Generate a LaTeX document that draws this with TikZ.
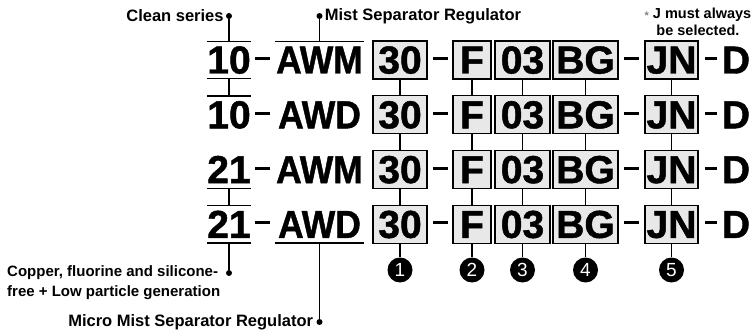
\documentclass[tikz,border=0pt]{standalone}
\usepackage{fontspec}
\setmainfont{Liberation Sans}
\newfontfamily\heavyfont[FakeBold=1.2]{Liberation Sans Bold}
\usepackage{graphicx}
\definecolor{boxgray}{RGB}{232,232,232}
\begin{document}
\begin{tikzpicture}[x=1pt,y=-1pt,
  big/.style={font=\fontsize{39}{39}\heavyfont},
  code/.style={big, text height=27pt, text depth=0pt, inner xsep=0pt, inner ysep=5pt},
  codebox/.style={big, text height=27pt, text depth=0pt, inner sep=0pt, draw, line width=1.3pt, fill=boxgray, minimum height=38pt},
  lbl/.style={font=\fontsize{16.5}{20}\selectfont\bfseries},
  dotnode/.style={circle, fill=black, inner sep=0pt, minimum size=6pt},
  conn/.style={line width=1.4pt},
  dashbar/.style={line width=3pt},
  numnode/.style={circle, fill=black, text=white, inner sep=0pt, minimum size=25pt, font=\fontsize{19}{19}\selectfont}]
\useasboundingbox (0,0) rectangle (753,334);

\foreach \r/\pre/\mid in {1/10/AWM, 2/10/AWD, 3/21/AWM, 4/21/AWD} {
  \pgfmathsetmacro\yc{60+54.8*(\r-1)}
  \pgfmathsetmacro\yd{\yc-1.5}
  \node[code, minimum width=42pt] (p\r) at (229,\yc) {\pre};
  \draw[dashbar] (255,\yd) -- (270,\yd);
  \node[code, minimum width=89pt] (m\r) at (319.5,\yc) {\scalebox{0.91}[1]{\mid}};
  \node[codebox, minimum width=54pt] (b\r a) at (400,\yc) {30};
  \draw[dashbar] (433,\yd) -- (448,\yd);
  \node[codebox, minimum width=38pt] (b\r b) at (472,\yc) {F};
  \node[codebox, minimum width=55pt] (b\r c) at (522.5,\yc) {03};
  \node[codebox, minimum width=65pt] (b\r d) at (585.5,\yc) {BG};
  \draw[dashbar] (624,\yd) -- (639,\yd);
  \node[codebox, minimum width=53pt] (b\r e) at (671.5,\yc) {JN};
  \draw[dashbar] (705,\yd) -- (717,\yd);
  \node[code] (d\r) at (736,\yc) {D};
}

% connectors between rows
\foreach \c in {a,b,c,d,e} {
  \foreach \r/\n in {1/2,2/3,3/4} {
    \draw[conn] (b\r\c.south) -- (b\n\c.north);
  }
}

% numbered circles
\node[numnode] (n1) at (400,270) {1};
\node[numnode] (n2) at (472,270) {2};
\node[numnode] (n3) at (522.5,270) {3};
\node[numnode] (n4) at (585.5,270) {4};
\node[numnode] (n5) at (671.5,270) {5};
\draw[conn] (b4a.south) -- (n1.north);
\draw[conn] (b4b.south) -- (n2.north);
\draw[conn] (b4c.south) -- (n3.north);
\draw[conn] (b4d.south) -- (n4.north);
\draw[conn] (b4e.south) -- (n5.north);

% over/underlines
\draw[conn] (p1.north west) -- (p1.north east);
\draw[conn] (p1.south west) -- (p1.south east);
\draw[conn] (p2.north west) -- (p2.north east);
\draw[conn] (p3.south west) -- (p3.south east);
\draw[conn] (p4.north west) -- (p4.north east);
\draw[conn] (p4.south west) -- (p4.south east);
\draw[conn] (m1.north west) -- (m1.north east);
\draw[conn] (m4.south west) -- (m4.south east);
\draw[conn] (p1.south) -- (p2.north);
\draw[conn] (p3.south) -- (p4.north);

% labels
\node[dotnode] (dclean) at (229,16) {};
\node[lbl, anchor=east, inner sep=1pt] (tclean) at ([xshift=-1pt]dclean.west) {Clean series};
\draw[conn] (dclean) -- (p1.north);

\node[dotnode] (dmist) at (319.5,16) {};
\node[lbl, anchor=west, inner sep=1pt] (tmist) at ([xshift=1pt]dmist.east) {Mist Separator Regulator};
\draw[conn] (dmist) -- (m1.north);

\node[dotnode] (dcu) at (229,273) {};
\node[lbl, font=\fontsize{15}{20}\selectfont\bfseries, anchor=west, align=left, inner sep=0pt] (tcu) at (7,283) {Copper, fluorine and silicone-\\free + Low particle generation};
\draw[conn] (p4.south) -- (dcu);

\node[dotnode] (dmicro) at (319.5,322) {};
\node[lbl, anchor=east, inner sep=1pt] (tmicro) at ([xshift=-2pt]dmicro.west) {Micro Mist Separator Regulator};
\draw[conn] (m4.south) -- (dmicro);

\node[font=\fontsize{14.5}{17}\selectfont\bfseries, align=center, inner sep=0pt] (tnote) at (698,21.5)
  {{\color{gray}\fontsize{11}{11}\selectfont\raisebox{-1.5pt}{*}} J must always\\be selected.};
\end{tikzpicture}
\end{document}
